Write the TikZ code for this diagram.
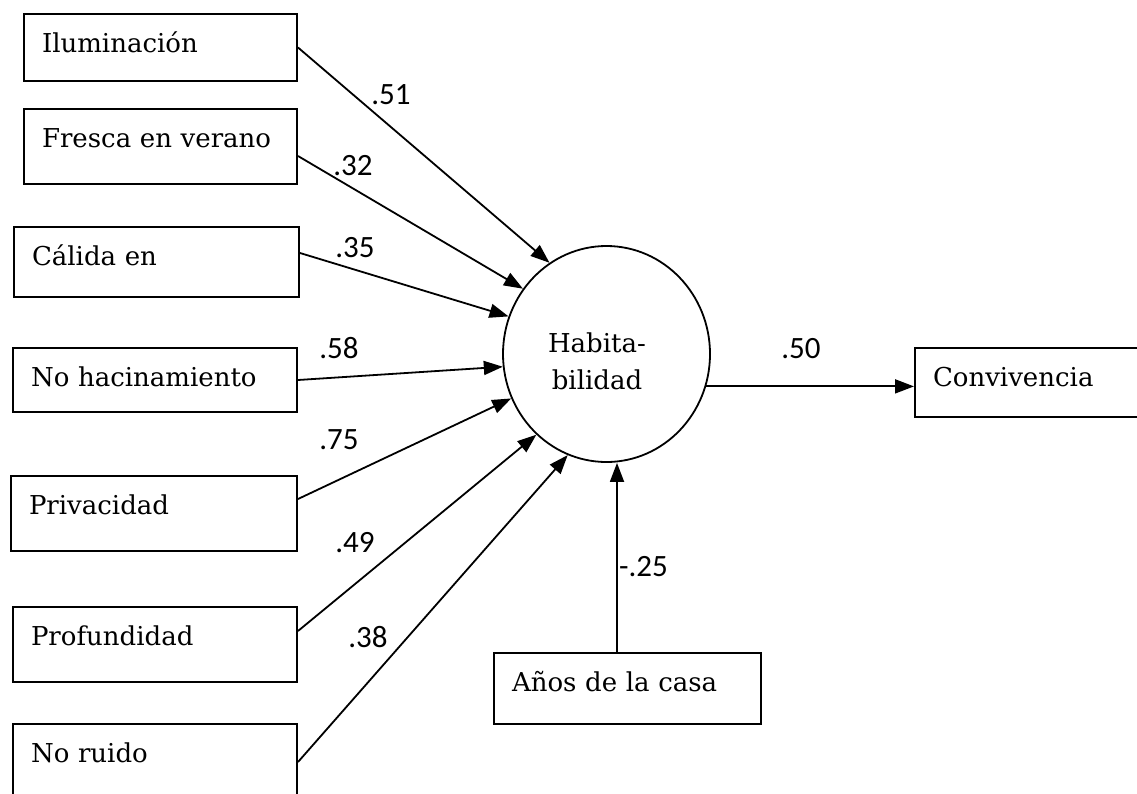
\documentclass[tikz,border=0pt]{standalone}
\usepackage{fontspec}
\setmainfont{DejaVu Serif}
\newfontfamily\numfont{Carlito}
\usetikzlibrary{arrows.meta,shapes.geometric}

\tikzset{
  var/.style={draw, line width=2pt, rectangle, anchor=north west, align=left,
    inner xsep=18pt, inner ysep=0pt, text height=38pt,
    font=\fontsize{26}{31}\selectfont},
  latent/.style={draw, ellipse, line width=1.8pt, inner sep=0pt,
    minimum width=207pt, minimum height=216pt},
  latentlabel/.style={align=center, font=\fontsize{26}{37}\selectfont},
  coef/.style={inner sep=0pt, font=\numfont\fontsize{31}{36}\selectfont},
  link/.style={->, line width=1.8pt},
}

\begin{document}
\begin{tikzpicture}[x=1pt, y=-1pt, >={Triangle[length=19pt,width=14pt]}]
    \useasboundingbox (0,0) rectangle (1137,793);
    \clip (0,0) rectangle (1137,793);

    % observed variables
    \node[var, text width=237pt, text depth=29pt] (ilum) at (23,13) {Iluminación};
    \node[var, text width=237pt, text depth=37pt] (fresca) at (23,108) {Fresca en verano};
    \node[var, text width=249pt, text depth=32pt] (calida) at (13,226) {Cálida en};
    \node[var, text width=248pt, text depth=26pt] (nohac) at (12,347) {No hacinamiento};
    \node[var, text width=250pt, text depth=37pt] (priv) at (10,475) {Privacidad};
    \node[var, text width=248pt, text depth=37pt] (prof) at (12,606) {Profundidad};
    \node[var, text width=248pt, text depth=62pt] (ruido) at (12,723) {No ruido};
    \node[var, text width=231pt, text depth=33pt] (anos) at (493,652) {Años de la casa};
    \node[var, text width=224pt, text depth=31pt] (conv) at (914,347) {Convivencia};

    % latent variable
    \node[latent, label={[latentlabel, xshift=-9.5pt, yshift=-7pt]center:Habita-\\bilidad}]
        (hab) at (606.5,354) {};

    % paths
    \draw[link] (ilum.east) -- (hab.122);
    \draw[link] ([yshift=-9.5pt]fresca.east) -- (hab.142);
    \draw[link] ([yshift=9pt]calida.east) -- (hab.159.5);
    \draw[link] (nohac.east) -- (hab.187);
    \draw[link] ([yshift=14.5pt]priv.east) -- (hab.205);
    \draw[link] ([yshift=13.5pt]prof.east) -- (hab.229);
    \draw[link] ([yshift=-39pt]ruido.north east) -- (hab.249);
    \draw[link] ([xshift=-10.5pt]anos.north) -- ([xshift=-10.5pt]anos.north |- hab.south);
    \draw[link] (hab.-18) -- (hab.-18 -| conv.west);

    % coefficients
    \node[coef] (c51) at (391,95) {.51};
    \node[coef] (c32) at (353,166) {.32};
    \node[coef] (c35) at (355,248) {.35};
    \node[coef] (c58) at (339,348) {.58};
    \node[coef] (c75) at (339,440) {.75};
    \node[coef] (c49) at (355,543) {.49};
    \node[coef] (c38) at (368,637) {.38};
    \node[coef] (c25) at (643.5,567) {-.25};
    \node[coef] (c50) at (801,349) {.50};
\end{tikzpicture}
\end{document}
